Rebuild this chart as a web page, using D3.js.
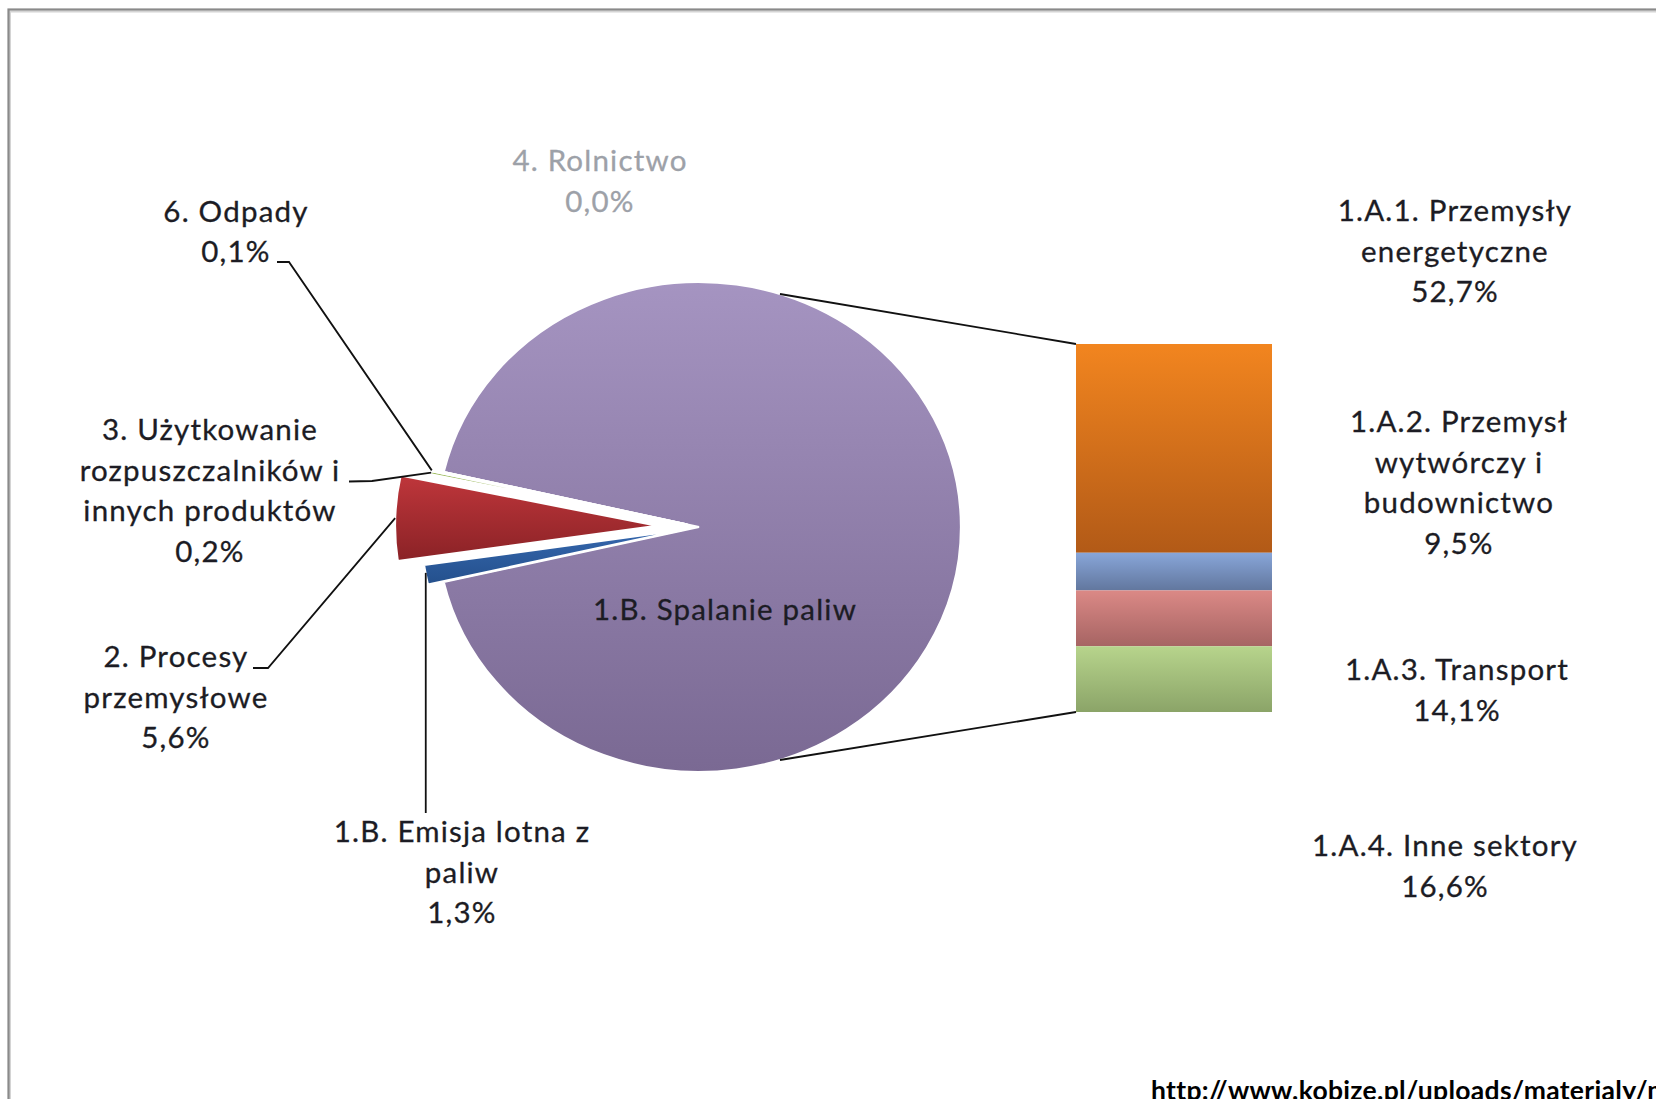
<!DOCTYPE html>
<html>
<head>
<meta charset="utf-8">
<script src="https://cdn.jsdelivr.net/npm/d3@7"></script>
<style>
  html, body { margin: 0; padding: 0; background: #fff; overflow: hidden; }
  svg { display: block; }
  text { font-family: Lato, "Open Sans", sans-serif; }
</style>
</head>
<body>
<svg id="chart" width="1656" height="1099"></svg>
<script>
// Emisje według sektorów: główny wykres kołowy + słupek rozbicia spalania paliw
const mainCategories = [
  "1.B. Spalanie paliw",
  "1.B. Emisja lotna z\npaliw",
  "2. Procesy\nprzemysłowe",
  "3. Użytkowanie\nrozpuszczalników i\ninnych produktów",
  "6. Odpady",
  "4. Rolnictwo"
];
const mainValues = [92.9, 1.3, 5.6, 0.2, 0.1, 0.0];

const barCategories = [
  "1.A.1. Przemysły\nenergetyczne",
  "1.A.2. Przemysł\nwytwórczy i\nbudownictwo",
  "1.A.3. Transport",
  "1.A.4. Inne sektory"
];
const barValues = [52.7, 9.5, 14.1, 16.6];

const sourceText = "http://www.kobize.pl/uploads/materialy/materialy_do_pobrania/krajowa_inwentaryzacja";

// ---- styling / layout ----
const W = 1656, H = 1099;
const cx = 699, cy = 527, R = 262, squash = 245 / 262;
const explode = [0, 16, 42, 12, 12, 12];
const pieColors = [
  ["#a594c1", "#7a6993"],
  ["#3567ae", "#24508c"],
  ["#bf363b", "#8a2226"],
  ["#9bbb59", "#86a34a"],
  ["#4bacc6", "#3b93ab"],
  ["#cccccc", "#aaaaaa"]
];
const barColors = [
  ["#f2851f", "#b25a17"],
  ["#88a6d9", "#62779e"],
  ["#db8986", "#a66463"],
  ["#b7d48c", "#8ba468"]
];
const textColor = "#1c1c24";
const fontSize = 29.5, letterSp = 1.2, lineH = 40.5;

const fmt = v => d3.format(".1f")(v).replace(".", ",") + "%";

const svg = d3.select("#chart");
const defs = svg.append("defs");

function grad(id, [c1, c2]) {
  const g = defs.append("linearGradient").attr("id", id)
    .attr("x1", 0).attr("y1", 0).attr("x2", 0).attr("y2", 1);
  g.append("stop").attr("offset", "0%").attr("stop-color", c1);
  g.append("stop").attr("offset", "100%").attr("stop-color", c2);
}
pieColors.forEach((c, i) => grad("pg" + i, c));
barColors.forEach((c, i) => grad("bg" + i, c));

// frame of the chart area
svg.append("rect")
  .attr("x", 10).attr("y", 11.5).attr("width", W + 20).attr("height", H + 20)
  .attr("fill", "none").attr("stroke", "#d4d4d4").attr("stroke-width", 2);
svg.append("rect")
  .attr("x", 8.5).attr("y", 9.5).attr("width", W + 20).attr("height", H + 20)
  .attr("fill", "none").attr("stroke", "#8a8a8a").attr("stroke-width", 2.2);

// ---- main pie ----
const total = d3.sum(mainValues);
const start = Math.PI / 2 - Math.PI * mainValues[0] / total;
const pie = d3.pie().sort(null).value(d => d)
  .startAngle(start).endAngle(start + 2 * Math.PI);
const arcs = pie(mainValues);
const arc = d3.arc().innerRadius(0).outerRadius(R);

const pieG = svg.append("g")
  .attr("transform", `translate(${cx},${cy}) scale(1,${squash})`);

function offsetOf(d, i) {
  const mid = (d.startAngle + d.endAngle) / 2;
  return [Math.sin(mid) * explode[i], -Math.cos(mid) * explode[i]];
}

pieG.selectAll("path.slice")
  .data(arcs)
  .join("path")
  .attr("class", "slice")
  .attr("d", arc)
  .attr("transform", (d, i) => { const o = offsetOf(d, i); return `translate(${o[0]},${o[1]})`; })
  .attr("fill", (d, i) => `url(#pg${i})`)
  .attr("stroke", "#fff")
  .attr("stroke-width", 2.2)
  .attr("vector-effect", "non-scaling-stroke");

// point on a slice's outer edge, in page coordinates
function edgePoint(i, angle) {
  const d = arcs[i];
  const o = offsetOf(d, i);
  const a = angle === undefined ? (d.startAngle + d.endAngle) / 2 : angle;
  return [cx + o[0] + Math.sin(a) * R, cy + (o[1] - Math.cos(a) * R) * squash];
}

// ---- breakdown bar ----
const barX0 = 1076, barX1 = 1272;
const barTotal = d3.sum(barValues);
const yBar = d3.scaleLinear().domain([0, barTotal]).range([344, 712]);
const stackStarts = d3.cumsum([0, ...barValues]).slice(0, barValues.length);

svg.append("g").selectAll("rect")
  .data(barValues)
  .join("rect")
  .attr("x", barX0)
  .attr("width", barX1 - barX0)
  .attr("y", (v, i) => yBar(stackStarts[i]))
  .attr("height", v => yBar(v) - yBar(0))
  .attr("fill", (v, i) => `url(#bg${i})`);

// connector lines between pie and bar
const connAngle = 18 * Math.PI / 180;
const topPt = [cx + Math.sin(connAngle) * R, cy - Math.cos(connAngle) * R * squash];
const botPt = [cx + Math.sin(Math.PI - connAngle) * R, cy - Math.cos(Math.PI - connAngle) * R * squash];
svg.append("line")
  .attr("x1", topPt[0]).attr("y1", topPt[1])
  .attr("x2", barX0).attr("y2", yBar(0))
  .attr("stroke", "#111").attr("stroke-width", 1.8);
svg.append("line")
  .attr("x1", botPt[0]).attr("y1", botPt[1])
  .attr("x2", barX0).attr("y2", yBar(barTotal))
  .attr("stroke", "#111").attr("stroke-width", 1.8);

// ---- leader lines ----
const lineGen = d3.line();
const leaders = [
  { i: 4, pts: [[277, 262], [289, 262]] },
  { i: 3, pts: [[349, 481.5], [372, 481]] },
  { i: 2, pts: [[253, 668], [268, 668]] }
];
leaders.forEach(l => {
  const p = edgePoint(l.i);
  svg.append("path")
    .attr("d", lineGen([...l.pts, p]))
    .attr("fill", "none").attr("stroke", "#111").attr("stroke-width", 1.8);
});
{
  const p = edgePoint(1);
  svg.append("path")
    .attr("d", lineGen([[p[0], 813], [p[0], p[1] - 2]]))
    .attr("fill", "none").attr("stroke", "#111").attr("stroke-width", 1.8);
}

// ---- labels ----
function multiLabel(x, y0, lines, color) {
  const c = color || textColor;
  const t = svg.append("text")
    .attr("text-anchor", "middle")
    .attr("font-size", fontSize)
    .attr("letter-spacing", letterSp)
    .attr("fill", c)
    .attr("stroke", c)
    .attr("stroke-width", 0.3);
  lines.forEach((s, k) => {
    t.append("tspan").attr("x", x).attr("y", y0 + k * lineH).text(s);
  });
}

// label anchors for the pie categories (centre x, first baseline)
const mainLabelPos = [
  [725, 620],
  [462, 842],
  [176, 667],
  [210, 440],
  [236, 221.5],
  [600, 171]
];
mainCategories.forEach((name, i) => {
  const lines = name.split("\n");
  if (i > 0) lines.push(fmt(mainValues[i]));
  multiLabel(mainLabelPos[i][0], mainLabelPos[i][1], lines, i === 5 ? "#9da1a8" : textColor);
});

const barLabelPos = [
  [1455, 221],
  [1459, 432],
  [1457, 680],
  [1445, 856]
];
barCategories.forEach((name, i) => {
  const lines = name.split("\n");
  lines.push(fmt(barValues[i]));
  multiLabel(barLabelPos[i][0], barLabelPos[i][1], lines);
});

// source note
svg.append("text")
  .attr("x", 1151).attr("y", 1100)
  .attr("font-size", 26.5).attr("font-weight", "bold")
  .attr("letter-spacing", 0.3)
  .attr("fill", "#000")
  .text(sourceText);
</script>
</body>
</html>
